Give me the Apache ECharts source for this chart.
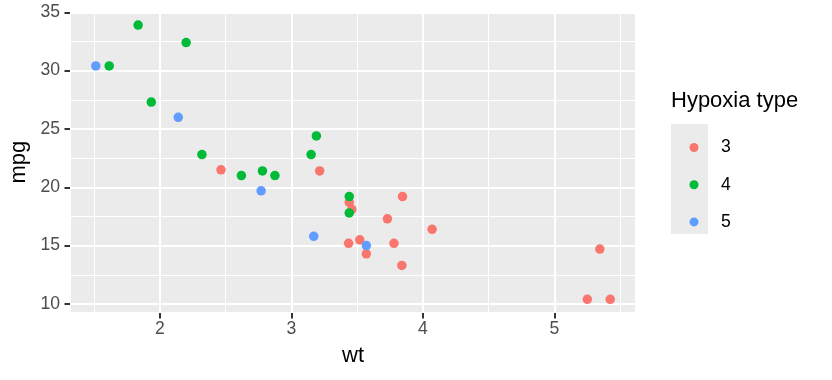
<!DOCTYPE html>
<html>
<head>
<meta charset="utf-8">
<script src="https://cdn.jsdelivr.net/npm/echarts@6/dist/echarts.min.js"></script>
<style>
  html, body { margin: 0; padding: 0; background: #fff; }
  #chart { width: 832px; height: 380px; }
</style>
</head>
<body>
<div id="chart"></div>
<script>
// mtcars: wt vs mpg, split by gear
const gear3Wt = [3.215, 3.440, 3.460, 3.570, 4.070, 3.730, 3.780, 5.250, 5.424, 5.345, 2.465, 3.520, 3.435, 3.840, 3.845];
const gear3Mpg = [21.4, 18.7, 18.1, 14.3, 16.4, 17.3, 15.2, 10.4, 10.4, 14.7, 21.5, 15.5, 15.2, 13.3, 19.2];
const gear4Wt = [2.620, 2.875, 2.320, 3.190, 3.150, 3.440, 3.440, 2.200, 1.615, 1.835, 1.935, 2.780];
const gear4Mpg = [21.0, 21.0, 22.8, 24.4, 22.8, 19.2, 17.8, 32.4, 30.4, 33.9, 27.3, 21.4];
const gear5Wt = [2.140, 1.513, 3.170, 2.770, 3.570];
const gear5Mpg = [26.0, 30.4, 15.8, 19.7, 15.0];

const groupNames = ['3', '4', '5'];
const groupColors = ['#F8766D', '#00BA38', '#619CFF'];

const xMin = 1.317, xMax = 5.620;
const yMin = 9.225, yMax = 35.075;

const font = '"Liberation Sans", Arial, Helvetica, sans-serif';

const zip = (xs, ys) => xs.map((x, i) => [x, ys[i]]);
const groups = [zip(gear3Wt, gear3Mpg), zip(gear4Wt, gear4Mpg), zip(gear5Wt, gear5Mpg)];

const chart = echarts.init(document.getElementById('chart'), null, { renderer: 'canvas' });

const majorAxis = (step, extra) => Object.assign({
  type: 'value',
  minInterval: step,
  maxInterval: step,
  axisLine: { show: false },
  axisTick: { show: true, length: 5.5, lineStyle: { color: '#333', width: 2 } },
  splitLine: { show: true, lineStyle: { color: '#fff', width: 2 } },
  nameTextStyle: { color: '#000', fontSize: 22, fontFamily: font }
}, extra);

const minorAxis = (step, extra) => Object.assign({
  type: 'value',
  minInterval: step,
  maxInterval: step,
  axisLine: { show: false },
  axisTick: { show: false },
  axisLabel: { show: false },
  splitLine: { show: true, lineStyle: { color: '#fff', width: 1 } }
}, extra);

chart.setOption({
  backgroundColor: '#fff',
  animation: false,
  grid: {
    left: 70, right: 196, top: 11.4, bottom: 67,
    outerBoundsMode: 'none',
    containLabel: false,
    show: true, backgroundColor: '#EBEBEB', borderWidth: 0
  },
  xAxis: [
    minorAxis(0.5, { min: xMin, max: xMax, position: 'bottom' }),
    majorAxis(1, {
      min: xMin, max: xMax, position: 'bottom',
      name: 'wt', nameLocation: 'middle', nameGap: 32,
      axisLabel: { color: '#4D4D4D', fontSize: 17.6, fontFamily: font, margin: 7, showMinLabel: false, showMaxLabel: false }
    })
  ],
  yAxis: [
    minorAxis(2.5, { min: yMin, max: yMax, position: 'left' }),
    majorAxis(5, {
      min: yMin, max: yMax, position: 'left',
      name: 'mpg', nameLocation: 'middle', nameGap: 32,
      axisLabel: { color: '#4D4D4D', fontSize: 17.6, fontFamily: font, margin: 10, showMinLabel: false, showMaxLabel: false }
    })
  ],
  legend: {
    orient: 'vertical',
    left: 684.5,
    top: 133.5,
    itemWidth: 9,
    itemHeight: 9,
    itemGap: 19.2,
    icon: 'circle',
    data: groupNames,
    textStyle: { color: '#000', fontSize: 17.6, fontFamily: font, padding: [0, 0, 0, 17.5] },
    selectedMode: false
  },
  graphic: [
    {
      type: 'rect', left: 671, top: 124, z: -1,
      shape: { width: 37, height: 110 },
      style: { fill: '#EBEBEB' }
    },
    {
      type: 'text', x: 671, y: 100.5,
      style: { text: 'Hypoxia type', fill: '#000', fontSize: 22, fontFamily: font, verticalAlign: 'middle' }
    }
  ],
  series: groups.map((data, i) => ({
    name: groupNames[i],
    type: 'scatter',
    xAxisIndex: 1,
    yAxisIndex: 1,
    data: data,
    symbolSize: 9.5,
    itemStyle: { color: groupColors[i], opacity: 1 }
  }))
});
</script>
</body>
</html>
